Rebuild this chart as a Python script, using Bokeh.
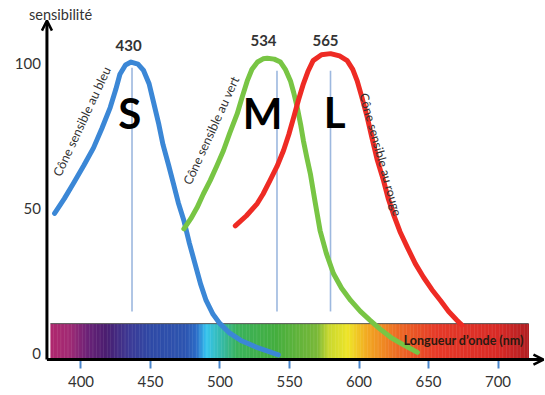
import numpy as np
from bokeh.plotting import figure
from bokeh.models import Range1d, FixedTicker, Arrow, OpenHead
from bokeh.core.properties import value
from bokeh.embed import file_html
from bokeh.resources import INLINE

# ---------------- data ----------------
x_ticks = [400, 450, 500, 550, 600, 650, 700]
y_ticks = [0, 50, 100]

s_nm = [381, 388, 394.6, 402, 409, 415, 421, 425, 428, 432, 436, 441, 445, 449, 452, 456, 459, 463,
        466.5, 470, 474, 478, 482, 486, 490, 495, 500, 507, 515, 527, 542]
s_val = [48.3, 53.4, 58.7, 64.8, 70.9, 77.6, 84.8, 91, 96.3, 99.5, 100.5, 99.8, 97.6, 93, 87, 79, 72, 65,
         58.6, 52, 45.9, 38, 31, 24, 18.3, 13.5, 10.3, 7, 4.5, 2, -0.5]

m_nm = [474, 479, 483.6, 488, 493, 498, 502.5, 507, 512.4, 516, 519.6, 523, 527, 531, 534, 539, 543.5,
        547, 550.7, 553, 555.5, 558, 560, 562.5, 565, 568.5, 572, 576.5, 581.6, 587.5, 594, 601, 608,
        615, 623, 632, 642]
m_val = [43, 46.5, 50.4, 55, 59.7, 65, 70, 76, 82.7, 88.5, 94, 98, 100.5, 101.6, 101.8, 101.5, 100.5,
         98, 94, 90, 85, 79, 73.4, 67.5, 62, 52, 42.4, 34.5, 27.6, 22.5, 18.3, 14.5, 11.4,
         8.5, 5.5, 3, 0.4]

l_nm = [511, 519, 526.8, 531, 536, 541, 545.7, 549.5, 553, 556.5, 560, 563.5, 567, 573, 579.5, 586,
        591.5, 595.5, 598.7, 602, 605.9, 609.5, 613, 617.6, 621, 624.8, 629.5, 634.7, 640.5, 646.4,
        652.5, 658.6, 664.5, 670.6, 674]
l_val = [44, 47.5, 51.7, 55, 59.7, 64.5, 70, 75.5, 81.4, 87.5, 93, 97.5, 101, 103, 103.4, 102.6,
         101, 98, 94, 88.5, 81.5, 74, 67, 59.7, 53.5, 48, 42, 36.7, 31, 26.3,
         22, 18.3, 14.5, 11.4, 9.8]

peak_labels = ["430", "534", "565"]
peak_nm = [434.2, 531.3, 575.9]
peak_val = [106.2, 107.9, 107.9]

marker_nm = [436.7, 541.0, 579.5]
marker_top = [98.5, 97.5, 97.5]
marker_bottom = [14.5, 14.5, 14.5]

cone_letters = ["S", "M", "L"]
cone_nm = [435.0, 530.7, 582.4]
cone_val = [83.0, 83.0, 83.2]

side_texts = ["Cône sensible au bleu", "Cône sensible au vert", "Cône sensible au rouge"]
side_nm = [400.7, 493.7, 615.5]
side_val = [80.0, 76.9, 68.6]
side_angle_deg = [65.0, 65.5, -74.4]

spec_nm = [378, 392, 405, 418, 435, 450, 475, 483, 490, 500, 512, 540, 570, 578, 592, 606, 628, 655, 700, 722]
spec_col = ["#b0286e", "#a02a74", "#6a2277", "#4a1e70", "#3c3a96", "#2f4aa6", "#2d55b0", "#2c6cc8",
            "#36c4ef", "#35bbb0", "#3ab25c", "#44ae3e", "#7ab838", "#c8d830", "#eee428", "#f2a822",
            "#ec6a24", "#e63a28", "#d82a26", "#b01e22"]
spec_top = 10.3

y_title = "sensibilité"
x_title = "Longueur d’onde (nm)"

# ---------------- figure ----------------
# frame = whole canvas; axes are placed at fixed data locations
X0, X1 = 342.09, 734.17
Y0, Y1 = -14.48, 121.72
AXIS_X = 375.5      # where the vertical axis crosses
AXIS_Y = -2.07      # where the horizontal axis crosses
Y_TIP = 114.8
X_TIP = 732.7

p = figure(width=545, height=395, x_range=Range1d(X0, X1), y_range=Range1d(Y0, Y1),
           output_backend="svg", toolbar_location=None,
           min_border_left=0, min_border_right=0, min_border_top=0, min_border_bottom=0)
p.outline_line_color = None
p.grid.visible = False
p.background_fill_color = "white"

FONT = "Lato"

# spectrum bar
def hex2rgb(h):
    return np.array([int(h[i:i + 2], 16) for i in (1, 3, 5)], dtype=float)

stops = np.array([hex2rgb(c) for c in spec_col])
edges = np.arange(spec_nm[0], spec_nm[-1] + 1, 1.0)
lefts = edges[:-1]
rights = edges[1:]
mids = (lefts + rights) / 2
cols = []
for m in mids:
    rgb = [np.interp(m, spec_nm, stops[:, k]) for k in range(3)]
    cols.append("#%02x%02x%02x" % tuple(int(round(v)) for v in rgb))
p.quad(left=lefts, right=rights + 0.3, bottom=AXIS_Y, top=spec_top, fill_color=cols, line_color=None)
p.segment(x0=[spec_nm[0]], y0=[spec_top], x1=[spec_nm[-1]], y1=[spec_top], line_color="#555555", line_width=1)

# vertical markers
p.segment(x0=marker_nm, y0=marker_bottom, x1=marker_nm, y1=marker_top, line_color="#9db8df", line_width=1.6)

# curves
p.line(s_nm, s_val, line_color="#3b87d6", line_width=5, line_cap="round", line_join="round")
p.line(m_nm, m_val, line_color="#78c544", line_width=5, line_cap="round", line_join="round")
p.line(l_nm, l_val, line_color="#ee2b24", line_width=5, line_cap="round", line_join="round")

# peak labels
p.text(x=peak_nm, y=peak_val, text=peak_labels, text_align="center", text_baseline="middle",
       text_font=value(FONT), text_font_size="15px", text_font_style="bold", text_color="#333333")

# big letters
p.text(x=cone_nm, y=cone_val, text=cone_letters, text_align="center", text_baseline="middle",
       text_font=value(FONT), text_font_size="42px", text_font_style="bold", text_color="#000000")

# rotated captions
p.text(x=side_nm, y=side_val, text=side_texts, angle=[np.deg2rad(a) for a in side_angle_deg],
       text_align="center", text_baseline="middle", text_font=value(FONT), text_font_size="12.5px",
       text_color="#333333")

# axis caption in spectrum
p.text(x=[718.5], y=[4.5], text=[x_title], text_align="right", text_baseline="middle",
       text_font=value(FONT), text_font_size="12.5px", text_font_style="bold", text_color="#2a1a10")

# y caption (centred a little right of the vertical axis)
p.text(x=[385.3], y=[116.8], text=[y_title], text_align="center", text_baseline="middle",
       text_font=value(FONT), text_font_size="14.5px", text_color="#333333")

# axis lines with arrow heads
p.add_layout(Arrow(end=OpenHead(size=10, line_width=2.5, line_color="black"),
                   x_start=AXIS_X, y_start=AXIS_Y, x_end=AXIS_X, y_end=Y_TIP,
                   line_color="black", line_width=3))
p.add_layout(Arrow(end=OpenHead(size=10, line_width=2.5, line_color="black"),
                   x_start=AXIS_X, y_start=AXIS_Y, x_end=X_TIP, y_end=AXIS_Y,
                   line_color="black", line_width=3))

# axes (ticks and labels) at fixed locations
for ax in (p.xaxis, p.yaxis):
    ax.axis_line_color = None
    ax.minor_tick_line_color = None
    ax.major_label_text_font = FONT
    ax.major_label_text_font_size = "15px"
    ax.major_label_text_color = "#333333"

p.xaxis.fixed_location = AXIS_Y
p.xaxis.ticker = FixedTicker(ticks=x_ticks)
p.xaxis.major_tick_in = 0
p.xaxis.major_tick_out = 9
p.xaxis.major_tick_line_color = "#4a86cc"
p.xaxis.major_tick_line_width = 2
p.xaxis.major_label_standoff = 7

p.yaxis.fixed_location = AXIS_X
p.yaxis.ticker = FixedTicker(ticks=y_ticks)
p.yaxis.major_tick_in = 0
p.yaxis.major_tick_out = 0
p.yaxis.major_tick_line_color = None
p.yaxis.major_label_standoff = 6

open("out.html", "w").write(file_html(p, INLINE))
